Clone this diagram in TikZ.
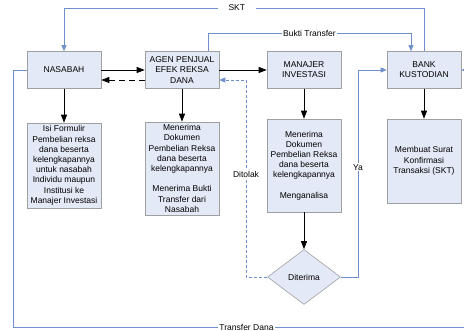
\documentclass[tikz,border=0pt]{standalone}
\usepackage{fontspec}
\setmainfont{Liberation Sans}
\usetikzlibrary{shapes.geometric,arrows.meta}
\definecolor{boxfill}{RGB}{227,233,246}
\definecolor{boxline}{RGB}{160,160,160}
\definecolor{flowblue}{RGB}{110,145,205}

\begin{document}
\begin{tikzpicture}[x=1pt,y=1pt,
	font=\fontsize{8.5}{10.2}\selectfont,
	box/.style={draw=boxline,fill=boxfill,line width=0.6pt,minimum width=74pt,align=center,inner sep=1pt},
	arr/.style={line width=0.8pt,-{Triangle[length=8pt,width=6pt]}},
	bluearr/.style={flowblue,line width=0.8pt,-{Triangle[length=6pt,width=5pt]}},
	lbl/.style={fill=white,text=black,inner sep=1pt}]

\useasboundingbox (0,0) rectangle (464,331);
\clip (0,0) rectangle (464,331);

\node[box,minimum height=37pt] (nasabah) at (64,261) {NASABAH};
\node[box,minimum height=37pt] (agen) at (182,261) {AGEN PENJUAL\\EFEK REKSA\\DANA};
\node[box,minimum height=37pt] (manajer) at (304,261) {MANAJER\\INVESTASI};
\node[box,minimum height=37pt] (bank) at (424,261) {BANK\\KUSTODIAN};

\node[box,minimum height=85pt] (isi) at (64,165.5) {Isi Formulir\\Pembelian reksa\\dana beserta\\kelengkapannya\\untuk nasabah\\Individu maupun\\Institusi ke\\Manajer Investasi};
\node[box,minimum height=93pt] (terima1) at (182,162.5) {Menerima\\Dokumen\\Pembelian Reksa\\dana beserta\\kelengkapannya\\[10.2pt]Menerima Bukti\\Transfer dari\\Nasabah};
\node[box,minimum height=93pt] (terima2) at (304,165.5) {Menerima\\Dokumen\\Pembelian Reksa\\dana beserta\\kelengkapannya\\[10.2pt]Menganalisa};
\node[box,minimum height=84pt] (skt) at (424,170) {Membuat Surat\\Konfirmasi\\Transaksi (SKT)};

\node[draw=boxline,fill=boxfill,line width=0.6pt,diamond,inner sep=0pt,minimum width=73pt,minimum height=55pt] (diterima) at (304,54) {Diterima};

\foreach \a/\b in {nasabah/isi,agen/terima1,manajer/terima2,bank/skt,terima2/diterima} {
	\draw[arr] (\a.south) -- (\b.north);
}

\draw[arr] (nasabah.east) -- (agen.west);
\draw[arr] (agen.east) -- (manajer.west);
\draw[arr,dash pattern=on 6pt off 4pt] ([yshift=-10pt]agen.west) -- ([yshift=-10pt]nasabah.east);

\draw[bluearr] (bank.north) -- (424,323) -- node[lbl,inner xsep=11pt,pos=0.52] (sktlbl) {SKT} (64,323) -- (nasabah.north);
\draw[bluearr] ([xshift=26pt]agen.north) -- (208,298) -- node[lbl,pos=0.5] (bukti) {Bukti Transfer} (411,298) -- ([xshift=-13pt]bank.north);
\draw[bluearr,dash pattern=on 3pt off 2pt] (diterima.west) -- (246,54) -- node[lbl,pos=0.52] (ditolak) {Ditolak} (246,251) -- ([yshift=-10pt]agen.east);
\draw[bluearr] (diterima.east) -- (358,54) -- node[lbl,pos=0.53] (ya) {Ya} (358,261) -- (bank.west);
\draw[bluearr] (nasabah.west) -- (13,261) -- (13,4) -- node[lbl,pos=0.5] (tdana) {Transfer Dana} (480,4) -- (480,261) -- (bank.east);

\end{tikzpicture}
\end{document}
